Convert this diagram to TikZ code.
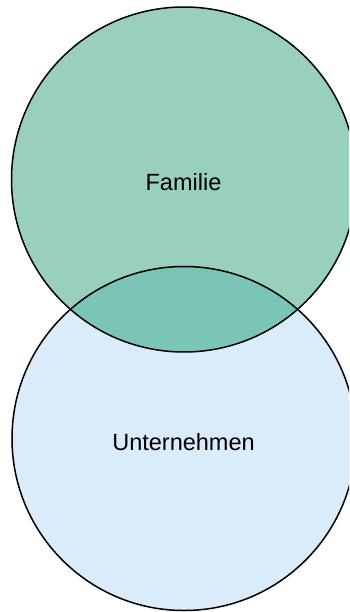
\documentclass[tikz,border=0pt]{standalone}
\usepackage{fontspec}
\setmainfont{Liberation Sans}
\definecolor{famfill}{HTML}{99D0BD}
\definecolor{untfill}{HTML}{DAEBF9}
\definecolor{bothfill}{HTML}{7AC4B8}
\begin{document}
\begin{tikzpicture}[x=1pt,y=-1pt,
  setline/.style={draw=black,line width=1.5pt},
  setlabel/.style={font=\fontsize{23.5}{28}\selectfont,text=black}]
\useasboundingbox (0,0) rectangle (349,612);
\begin{scope}
\clip (0,0) rectangle (349,612);
% fills
\fill[untfill] (184,438.5) circle[radius=172];
\fill[famfill] (184,179.5) circle[radius=172.5];
\begin{scope}
  \clip (184,438.5) circle[radius=172];
  \fill[bothfill] (184,179.5) circle[radius=172.5];
\end{scope}
% outlines
\draw[setline] (184,438.5) circle[radius=172];
\draw[setline] (184,179.5) circle[radius=172.5];
\end{scope}
\node[setlabel] (fam) at (183.5,182) {Familie};
\node[setlabel] (unt) at (183.5,442) {Unternehmen};
\end{tikzpicture}
\end{document}
